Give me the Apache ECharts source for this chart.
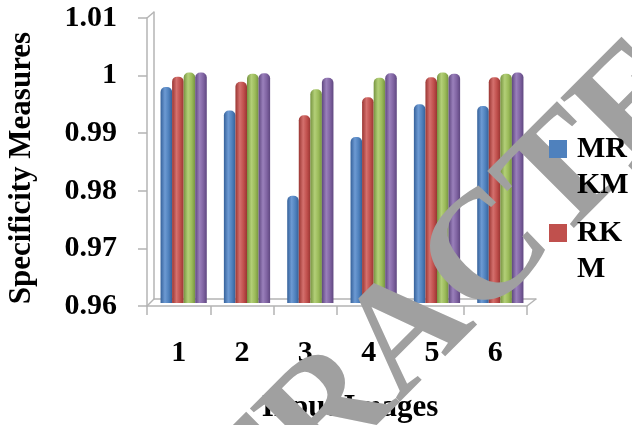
<!DOCTYPE html>
<html>
<head>
<meta charset="utf-8">
<script src="https://cdn.jsdelivr.net/npm/echarts@6/dist/echarts.min.js"></script>
<style>
  html, body { margin: 0; padding: 0; background: #ffffff; }
  #chart { width: 632px; height: 425px; }
</style>
</head>
<body>
<div id="chart"></div>
<script>
// Input images on the category axis
const categories = ['1', '2', '3', '4', '5', '6'];

// Specificity per method, one value per input image
const mrkm    = [0.9975, 0.9934, 0.9786, 0.9888, 0.9945, 0.9942];
const rkm     = [0.9993, 0.9984, 0.9926, 0.9957, 0.9992, 0.9992];
const method3 = [1.0000, 0.9998, 0.9971, 0.9991, 1.0000, 0.9998];
const method4 = [1.0000, 0.9999, 0.9991, 0.9999, 0.9998, 1.0000];

const seriesNames = ['MRKM', 'RKM', 'Method 3', 'Method 4'];
// legend labels wrap onto two lines; the leading blank line keeps the
// first line level with the colour key
const legendLabels = ['\nMR\nKM', '\nRK\nM'];

// Y axis scale
const yMin = 0.96;
const yMax = 1.01;
const yStep = 0.01;

const palette = [
  { base: '#4F81BD', dark: '#35619a', light: '#6d9ad3' },
  { base: '#C0504D', dark: '#9a3532', light: '#d4706d' },
  { base: '#9BBB59', dark: '#769440', light: '#b3cf78' },
  { base: '#8064A2', dark: '#5f4780', light: '#9a80bb' }
];

const serif = '"Liberation Serif", "Times New Roman", serif';
const frameColor = '#b4b4b4';

function cylinder(p) {
  return {
    type: 'linear', x: 0, y: 0, x2: 1, y2: 0,
    colorStops: [
      { offset: 0, color: p.dark },
      { offset: 0.38, color: p.light },
      { offset: 0.7, color: p.base },
      { offset: 1, color: p.dark }
    ]
  };
}

const seriesData = [mrkm, rkm, method3, method4];

const chart = echarts.init(document.getElementById('chart'), null, { renderer: 'canvas' });

const option = {
  backgroundColor: '#ffffff',
  animation: false,
  grid: [
    // front edge of the 3D frame: carries ticks and labels
    { left: 147, right: 105, top: 18, bottom: 119, outerBoundsMode: 'none' },
    // back wall and floor edge
    { left: 154, right: 96, top: 12, bottom: 126, outerBoundsMode: 'none' },
    // mid depth: where the columns stand
    { left: 152, right: 100, top: 15, bottom: 122, outerBoundsMode: 'none' }
  ],
  xAxis: [
    {
      gridIndex: 0, type: 'category', data: categories,
      axisLine: { lineStyle: { color: frameColor, width: 1.5 } },
      axisTick: { show: true, length: 9, lineStyle: { color: frameColor, width: 1.5 } },
      axisLabel: { margin: 32, color: '#000', fontFamily: serif, fontWeight: 'bold', fontSize: 30 },
      name: 'Input Images', nameLocation: 'middle', nameGap: 86,
      nameTextStyle: { color: '#000', fontFamily: serif, fontWeight: 'bold', fontSize: 31, padding: [0, 0, 0, 26] }
    },
    {
      gridIndex: 1, type: 'category', data: categories,
      axisLine: { lineStyle: { color: frameColor, width: 1.5 } },
      axisTick: { show: false }, axisLabel: { show: false }
    },
    {
      gridIndex: 2, type: 'category', data: categories,
      axisLine: { show: false }, axisTick: { show: false }, axisLabel: { show: false }
    }
  ],
  yAxis: [
    {
      gridIndex: 0, type: 'value', min: yMin, max: yMax, interval: yStep,
      splitLine: { show: false },
      axisLine: { show: true, lineStyle: { color: frameColor, width: 1.5 } },
      axisTick: { show: true, length: 9, lineStyle: { color: frameColor, width: 1.5 } },
      axisLabel: {
        margin: 30, color: '#000', fontFamily: serif, fontWeight: 'bold', fontSize: 30,
        formatter: v => String(parseFloat(v.toFixed(2)))
      },
      name: 'Specificity Measures', nameLocation: 'middle', nameGap: 110, nameRotate: 90,
      nameTextStyle: { color: '#000', fontFamily: serif, fontWeight: 'bold', fontSize: 31, padding: [0, 12, 0, 0] }
    },
    {
      gridIndex: 1, type: 'value', min: yMin, max: yMax, interval: yStep,
      splitLine: { show: false },
      axisLine: { show: true, lineStyle: { color: frameColor, width: 1.5 } },
      axisTick: { show: false }, axisLabel: { show: false }
    },
    {
      gridIndex: 2, type: 'value', min: yMin, max: yMax, interval: yStep,
      splitLine: { show: false },
      axisLine: { show: false }, axisTick: { show: false }, axisLabel: { show: false }
    }
  ],
  legend: [0, 1].map(i => ({
    z: 20,
    orient: 'vertical', left: 549, top: i === 0 ? 95 : 179, padding: 0,
    itemWidth: 18, itemHeight: 18, icon: 'rect',
    selectedMode: false,
    data: [{ name: seriesNames[i], itemStyle: { color: palette[i].base } }],
    formatter: () => legendLabels[i],
    textStyle: {
      color: '#000', fontFamily: serif, fontWeight: 'bold', fontSize: 30,
      lineHeight: 36, padding: [0, 0, 0, 5]
    }
  })),
  series: seriesData.map((vals, i) => ({
    name: seriesNames[i],
    type: 'bar',
    xAxisIndex: 2, yAxisIndex: 2,
    data: vals,
    barGap: '0%',
    barCategoryGap: '27%',
    itemStyle: { color: cylinder(palette[i]), borderRadius: [5, 5, 0, 0] }
  })),
  graphic: [
    // corner edges joining the front and back of the frame
    { type: 'line', z: 1, shape: { x1: 147, y1: 18, x2: 154, y2: 12 }, style: { stroke: frameColor, lineWidth: 1.5 } },
    { type: 'line', z: 1, shape: { x1: 147, y1: 306, x2: 154, y2: 299 }, style: { stroke: frameColor, lineWidth: 1.5 } },
    { type: 'line', z: 1, shape: { x1: 527, y1: 306, x2: 536, y2: 299 }, style: { stroke: frameColor, lineWidth: 1.5 } },
    // diagonal stamp across the plot, anchored at its first letter
    {
      type: 'text', z: 10, x: 66, y: 679, rotation: Math.PI / 4,
      style: {
        text: 'RETRACTED', fontSize: 155, fontWeight: 'bold', fontFamily: 'Liberation Serif',
        fill: '#a0a0a0', align: 'left', verticalAlign: 'middle'
      }
    }
  ]
};

chart.setOption(option);
</script>
</body>
</html>
